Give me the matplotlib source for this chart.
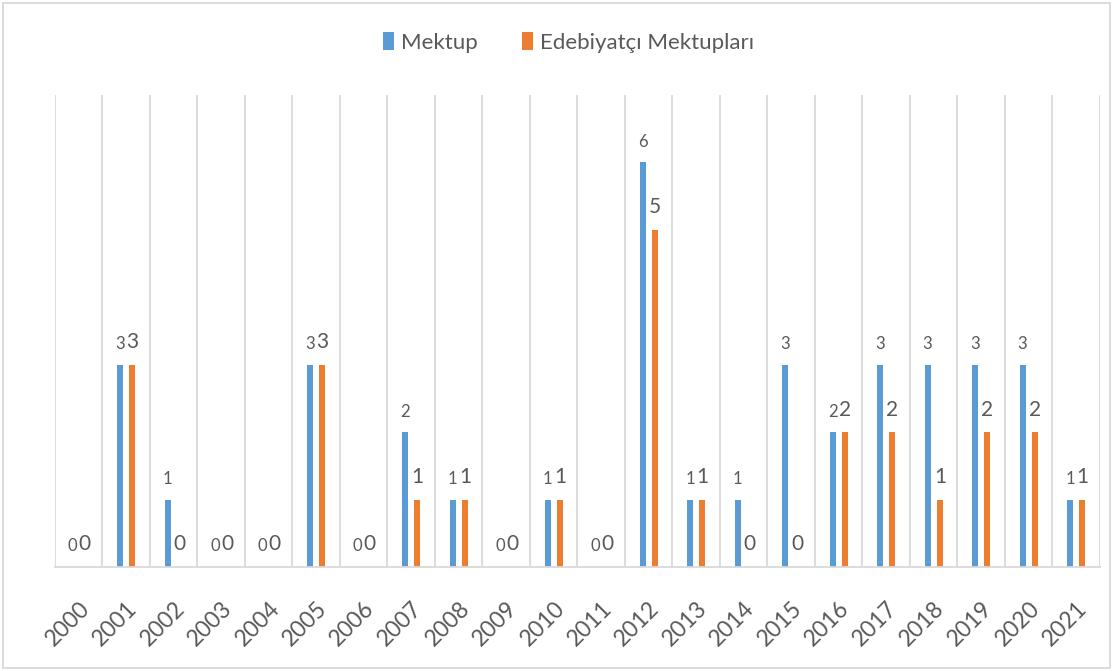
import matplotlib.pyplot as plt
import matplotlib.transforms as mtransforms
import numpy as np
from matplotlib.patches import Rectangle

years = ['2000', '2001', '2002', '2003', '2004', '2005', '2006', '2007', '2008', '2009', '2010',
         '2011', '2012', '2013', '2014', '2015', '2016', '2017', '2018', '2019', '2020', '2021']
mektup = [0, 3, 1, 0, 0, 3, 0, 2, 1, 0, 1, 0, 6, 1, 1, 3, 2, 3, 3, 3, 3, 1]
edebiyatci = [0, 3, 0, 0, 0, 3, 0, 1, 1, 0, 1, 0, 5, 1, 0, 0, 2, 2, 1, 2, 2, 1]

plt.rcParams['font.family'] = ['Lato', 'DejaVu Sans']
grey = '#595959'
grid = '#d9d9d9'

fig = plt.figure(figsize=(11.13, 6.71), dpi=100)
ax = fig.add_axes([0.0494, 0.155, 0.9389, 0.7034])

x = np.arange(len(years))
w = 0.125
b1 = ax.bar(x - 0.13, mektup, w, color='#5B9BD5', label='Mektup')
b2 = ax.bar(x + 0.13, edebiyatci, w, color='#ED7D31', label='Edebiyatçı Mektupları')

for xi, v in zip(x, mektup):
    ax.annotate(str(v), (xi - 0.13, v), xytext=(0, 9), textcoords='offset points',
                ha='center', va='bottom', fontsize=12, color=grey)
for xi, v in zip(x, edebiyatci):
    ax.annotate(str(v), (xi + 0.13, v), xytext=(0, 9), textcoords='offset points',
                ha='center', va='bottom', fontsize=15, color=grey)

ax.set_xlim(-0.5, len(years) - 0.5)
ax.set_ylim(0, 7)
for gx in np.arange(-0.5, len(years), 1.0):
    ax.axvline(gx, color=grid, lw=1.3, zorder=0)

ax.set_xticks(x)
ax.set_xticklabels(years, rotation=45, ha='right', rotation_mode='anchor',
                   fontsize=16.5, color=grey)
shift = mtransforms.ScaledTranslation(-8 / 72, 0, fig.dpi_scale_trans)
for lab in ax.get_xticklabels():
    lab.set_transform(lab.get_transform() + shift)
ax.tick_params(axis='x', length=0, pad=22)
ax.set_yticks([])
for s in ['top', 'left', 'right']:
    ax.spines[s].set_visible(False)
ax.spines['bottom'].set_color(grid)
ax.spines['bottom'].set_linewidth(1.3)

fig.legend(handles=[b1, b2], loc='center', bbox_to_anchor=(0.511, 0.937), ncol=2,
           frameon=False, fontsize=16, labelcolor=grey, handlelength=0.5,
           handleheight=0.9, handletextpad=0.3, columnspacing=2.0)

fig.patches.append(Rectangle((0.003, 0.004), 0.994, 0.992, transform=fig.transFigure,
                             fill=False, edgecolor=grid, lw=1.3))

fig.savefig('out.png', dpi=100)
